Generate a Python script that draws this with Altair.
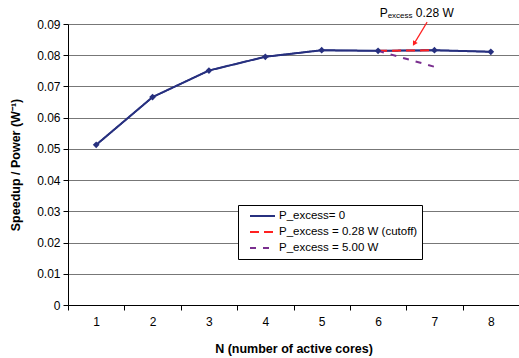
import altair as alt
import pandas as pd

# ---- data ----
N = [1, 2, 3, 4, 5, 6, 7, 8]
p0_vals = [0.0513, 0.0666, 0.0751, 0.0795, 0.0816, 0.0814, 0.0816, 0.0811]
cut_N = [6, 7]
cut_vals = [0.0814, 0.0816]
p5_N = [6, 7]
p5_vals = [0.0814, 0.0763]
series = ["P_excess= 0", "P_excess = 0.28 W (cutoff)", "P_excess = 5.00 W"]
colors = ["#27307f", "#ff2020", "#7a2f8f"]
dashes = [[1, 0], [9, 5], [6, 7]]
y_ticks = [0, 0.01, 0.02, 0.03, 0.04, 0.05, 0.06, 0.07, 0.08, 0.09]
x_ticks = [0.5, 1, 1.5, 2, 2.5, 3, 3.5, 4, 4.5, 5, 5.5, 6, 6.5, 7, 7.5, 8, 8.5]

rows = []
for n, v in zip(N, p0_vals):
    rows.append({"series": series[0], "N": n, "v": v})
for n, v in zip(cut_N, cut_vals):
    rows.append({"series": series[1], "N": n, "v": v})
for n, v in zip(p5_N, p5_vals):
    rows.append({"series": series[2], "N": n, "v": v})
df = pd.DataFrame(rows)
df0 = pd.DataFrame({"N": N, "v": p0_vals})

FONT = "Liberation Sans"

xscale = alt.Scale(domain=[0.5, 8.5], nice=False, zero=False)
yscale = alt.Scale(domain=[0, 0.09], nice=False)

xaxis = alt.Axis(
    values=x_ticks,
    labelExpr="datum.value % 1 === 0 ? format(datum.value, 'd') : ''",
    tickOpacity={"condition": {"test": "datum.value % 1 === 0", "value": 0}, "value": 1},
    grid=False, domainColor="black", tickColor="black", tickSize=5,
    labelFont=FONT, labelFontSize=12, labelColor="black", labelPadding=6,
    labelOverlap=False, labelFlush=False,
    title="N (number of active cores)", titleFont=FONT, titleFontSize=12.5,
    titleFontWeight="bold", titleColor="black", titlePadding=15,
)
yaxis = alt.Axis(
    values=y_ticks,
    labelExpr="datum.value === 0 ? '0' : format(datum.value, '.2f')",
    grid=True, gridColor="#777777", domainColor="black", tickColor="black",
    tickSize=5, labelFont=FONT, labelFontSize=12, labelColor="black", labelPadding=3,
    labelOverlap=False,
    title="Speedup / Power (W⁻¹)", titleFont=FONT, titleFontSize=12.5,
    titleFontWeight="bold", titleColor="black", titlePadding=14,
)

def X(f):
    return alt.X(f, scale=xscale, axis=xaxis)

def Y(f):
    return alt.Y(f, scale=yscale, axis=yaxis)

leg = alt.Legend(
    title=None, orient="none", legendX=170, legendY=181,
    fillColor="white", strokeColor="black", padding=4,
    symbolType="stroke", symbolSize=625, symbolStrokeWidth=2,
    symbolOffset=7, labelOffset=3, clipHeight=14,
    labelFont=FONT, labelFontSize=11.5, labelColor="black", rowPadding=2,
)

base_line = alt.Chart(df0).mark_line(strokeWidth=1.5, color=colors[0]).encode(
    x=X("N:Q"), y=Y("v:Q"),
)

lines = alt.Chart(df).mark_line(strokeWidth=2).encode(
    x=X("N:Q"), y=Y("v:Q"),
    color=alt.Color("series:N", scale=alt.Scale(domain=series, range=colors), legend=leg),
    strokeDash=alt.StrokeDash("series:N", scale=alt.Scale(domain=series, range=dashes), legend=leg),
    order=alt.Order("N:Q"),
)

pts = alt.Chart(df0).mark_point(shape="diamond", filled=True, size=45, color=colors[0], opacity=1).encode(
    x=X("N:Q"), y=Y("v:Q")
)

# annotation
ann_P = pd.DataFrame({"x": [6.03], "y": [0.0934], "t": ["P"]})
ann_sub = pd.DataFrame({"x": [6.17], "y": [0.0926], "t": ["excess"]})
ann_val = pd.DataFrame({"x": [6.67], "y": [0.0934], "t": ["0.28 W"]})

def txt(d, size):
    return alt.Chart(d).mark_text(align="left", baseline="middle", font=FONT, fontSize=size, color="black").encode(
        x=X("x:Q"), y=Y("y:Q"), text="t:N"
    )

arrow_df = pd.DataFrame({"x": [6.87], "y": [0.0906], "x2": [6.64], "y2": [0.0837]})
arrow = alt.Chart(arrow_df).mark_rule(color="#ff2020", strokeWidth=1.2).encode(
    x=X("x:Q"), y=Y("y:Q"), x2="x2:Q", y2="y2:Q"
)
head = alt.Chart(arrow_df).mark_point(shape="triangle-up", filled=True, size=30, color="#ff2020", opacity=1, angle=211).encode(
    x=X("x2:Q"), y=Y("y2:Q")
)

chart = alt.layer(
    base_line, lines, pts, arrow, head,
    txt(ann_P, 12), txt(ann_sub, 8), txt(ann_val, 12)
).properties(
    width=451, height=281,
    padding={"left": 68, "top": 24, "right": 0, "bottom": 53},
    autosize=alt.AutoSizeParams(type="none"),
    background="white",
).configure_view(stroke=None)

chart.save("out.html", embed_options={"renderer": "svg", "actions": False})
